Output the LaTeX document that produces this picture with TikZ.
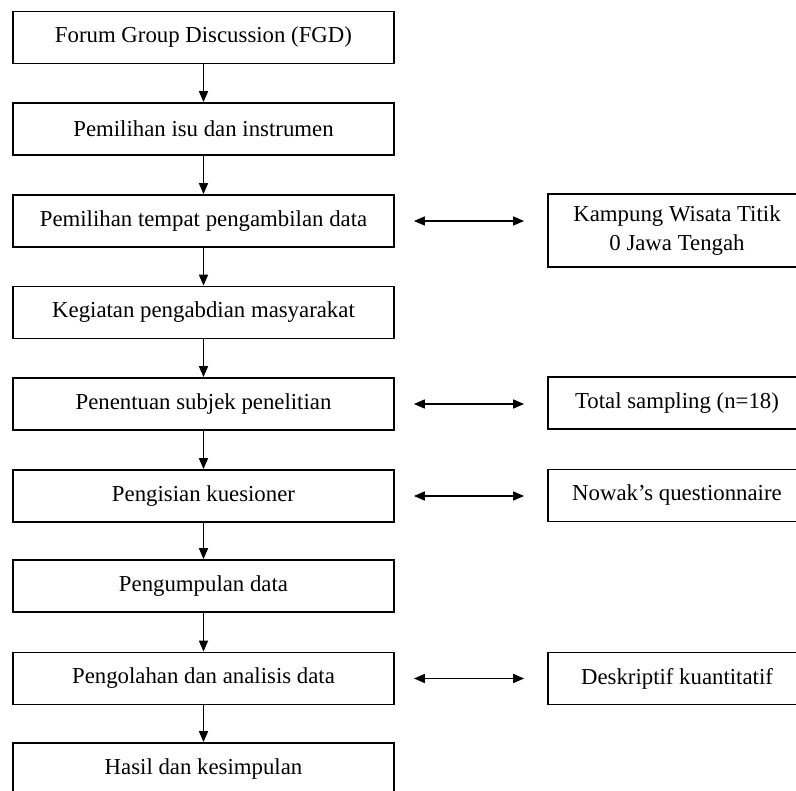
\documentclass[tikz,border=0pt]{standalone}
\usepackage{fontspec}
\setmainfont{Liberation Serif}
\usetikzlibrary{arrows.meta}
\begin{document}
\begin{tikzpicture}[x=1pt,y=-1pt,
  stepbox/.style={draw,line width=1.8pt,minimum width=381pt,minimum height=52pt,inner sep=0pt,align=center,
    font=\fontsize{22.8}{29}\selectfont},
  sidebox/.style={draw,line width=1.8pt,minimum width=258pt,minimum height=52pt,inner sep=0pt,align=center,
    font=\fontsize{22.8}{29}\selectfont},
  flow/.style={line width=1.6pt,-{Triangle[length=11pt,width=9pt]}},
  both/.style={line width=1.6pt,{Triangle[length=11pt,width=9pt]}-{Triangle[length=11pt,width=9pt]},
    shorten <=19pt, shorten >=23pt}]
\clip (0,0) rectangle (796,791);
\fill[white] (0,0) rectangle (796,791);
\node[stepbox] (b1) at (203.5,37.5) {Forum Group Discussion (FGD)};
\node[stepbox] (b2) at (203.5,129) {Pemilihan isu dan instrumen};
\node[stepbox] (b3) at (203.5,221) {Pemilihan tempat pengambilan data};
\node[stepbox] (b4) at (203.5,312.5) {Kegiatan pengabdian masyarakat};
\node[stepbox] (b5) at (203.5,404) {Penentuan subjek penelitian};
\node[stepbox] (b6) at (203.5,496) {Pengisian kuesioner};
\node[stepbox] (b7) at (203.5,586) {Pengumpulan data};
\node[stepbox] (b8) at (203.5,678.5) {Pengolahan dan analisis data};
\node[stepbox] (b9) at (203.5,769) {Hasil dan kesimpulan};
\node[sidebox,minimum height=73pt] (r1) at (677,230.5) {Kampung Wisata Titik\\0 Jawa Tengah};
\node[sidebox] (r2) at (677,403) {Total sampling (n=18)};
\node[sidebox] (r3) at (677,495.5) {Nowak’s questionnaire};
\node[sidebox] (r4) at (677,678.5) {Deskriptif kuantitatif};
\foreach \a/\b in {b1/b2,b2/b3,b3/b4,b4/b5,b5/b6,b6/b7,b7/b8,b8/b9}
  \draw[flow] (\a.south) -- (\b.north);
\draw[both] (b3.east) -- (b3.east -| r1.west);
\draw[both] (b5.east) -- (b5.east -| r2.west);
\draw[both] (b6.east) -- (b6.east -| r3.west);
\draw[both] (b8.east) -- (b8.east -| r4.west);
\end{tikzpicture}
\end{document}
